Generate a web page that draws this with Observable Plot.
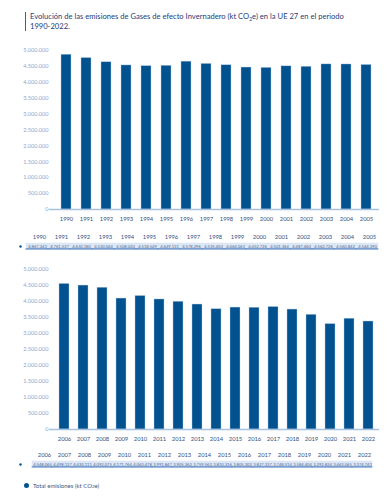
<!DOCTYPE html>
<html><head><meta charset="utf-8">
<script src="https://cdn.jsdelivr.net/npm/d3@7"></script>
<script src="https://cdn.jsdelivr.net/npm/@observablehq/plot@0.6"></script>
<style>
body{margin:0;background:#fff;width:388px;height:497px;position:relative;font-family:Lato,"Open Sans",sans-serif;overflow:hidden}
.abs{position:absolute}
#title{left:25px;top:12px;width:345px;border-left:1.5px solid #3d5f98;padding-left:4px;font-size:7.6px;line-height:9.6px;color:#1d3c78}
#title div{white-space:nowrap;height:9.6px}
.sub{font-size:5px;position:relative;top:1.5px}
#legend{left:24px;top:482px;font-size:6px;color:#3a5688;display:flex;align-items:center;white-space:nowrap}
#legend span.dot{display:inline-block;width:5px;height:5px;border-radius:50%;background:#02528f;margin-right:4px}
</style></head><body>
<div id="title" class="abs"><div>Evolución de las emisiones de Gases de efecto Invernadero (kt CO<span class="sub">2</span>e) en la UE 27 en el periodo</div><div>1990-2022.</div></div>
<div id="c1" class="abs" style="left:0;top:40px"></div>
<div id="t1" class="abs" style="left:0;top:228px"></div>
<div id="c2" class="abs" style="left:0;top:258px"></div>
<div id="t2" class="abs" style="left:0;top:446px"></div>
<div id="legend" class="abs"><span class="dot"></span>Total emisiones (kt CO<span class="sub" style="font-size:4.5px;top:1.2px">2</span>e)</div>
<script>
const years1 = [1990,1991,1992,1993,1994,1995,1996,1997,1998,1999,2000,2001,2002,2003,2004,2005];
const values1 = [4867243,4761537,4630180,4530044,4508020,4518549,4649131,4578296,4535450,4464063,4452726,4501364,4487460,4562726,4560842,4544390];
const years2 = [2006,2007,2008,2009,2010,2011,2012,2013,2014,2015,2016,2017,2018,2019,2020,2021,2022];
const values2 = [4548065,4498127,4430111,4092075,4171764,4063478,3991847,3905362,3759563,3810316,3805302,3827337,3748514,3584404,3292824,3463065,3374743];
const yTicks = [0,500000,1000000,1500000,2000000,2500000,3000000,3500000,4000000,4500000,5000000];

const BAR = "#02528f";
const fmt = d3.formatLocale({thousands:".", grouping:[3], decimal:","}).format(",");

function chart(years, values, mt, mb){
  const data = years.map((y,i)=>({year:String(y), value:values[i]}));
  return Plot.plot({
    width:388, height:190, marginLeft:52, marginRight:9, marginTop:mt, marginBottom:mb,
    style:{fontFamily:"Lato, 'Open Sans', sans-serif", background:"transparent"},
    x:{type:"band", domain:years.map(String), paddingInner:0.5, paddingOuter:0.25, label:null, tickSize:0, tickPadding:7},
    y:{domain:[0,5000000], ticks:yTicks, tickFormat:fmt, label:null, tickSize:0, tickPadding:4},
    marks:[
      Plot.barY(data,{x:"year", y:"value", fill:BAR, stroke:"#b3cae4", strokeWidth:0.4}),
      Plot.ruleY([0],{stroke:"#a7c1e0", strokeWidth:1.5, insetLeft:-3}),
      Plot.axisY({ticks:yTicks, tickFormat:fmt, tickSize:0, tickPadding:4, fontSize:5.6, color:"#8ea7cc", label:null}),
      Plot.axisX({tickSize:0, tickPadding:7, fontSize:5.8, color:"#33507f", label:null})
    ]
  });
}

function table(years, values){
  const data = years.map((y,i)=>({year:String(y), value:values[i]}));
  return Plot.plot({
    width:388, height:26, marginLeft:24, marginRight:8, marginTop:2, marginBottom:2,
    style:{fontFamily:"Lato, 'Open Sans', sans-serif", background:"transparent", overflow:"visible"},
    x:{type:"band", domain:years.map(String), padding:0, axis:null},
    y:{type:"band", domain:["h","gap","v"], range:[2,22], padding:0, axis:null},
    marks:[
      Plot.cell(data,{x:"year", y:()=>"v", fill:"#dde7f3", inset:-0.3}),
      Plot.cell(data,{x:"year", y:()=>"v", fill:"#9ab7da", insetBottom:6.2, insetLeft:-0.3, insetRight:-0.3}),
      Plot.cell(data,{x:"year", y:()=>"v", fill:"#4f7fbf", insetTop:5.3, insetBottom:-0.5, insetLeft:-0.3, insetRight:-0.3}),
      Plot.text(data,{x:"year", y:()=>"h", text:"year", dx:2, dy:2.5, fontSize:5.8, fill:"#33507f"}),
      Plot.text(data,{x:"year", y:()=>"v", text:d=>fmt(d.value), fontSize:4.1, fill:"#4d6b9c"}),
      Plot.dot([0],{frameAnchor:"left", y:()=>"v", dx:-4, r:1.2, fill:BAR})
    ]
  });
}

document.getElementById("c1").appendChild(chart(years1, values1, 10, 21));
document.getElementById("t1").appendChild(table(years1, values1));
document.getElementById("c2").appendChild(chart(years2, values2, 11, 19));
document.getElementById("t2").appendChild(table(years2, values2));
</script>
</body></html>
